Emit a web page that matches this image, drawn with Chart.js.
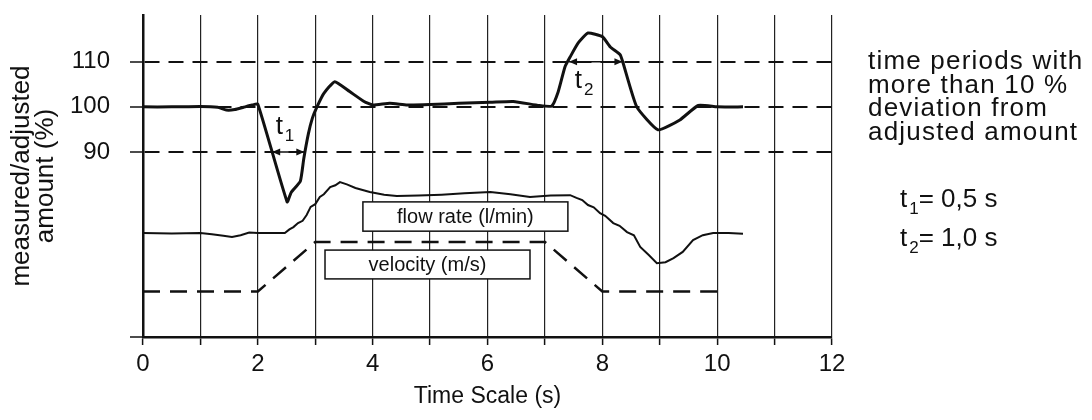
<!DOCTYPE html>
<html>
<head>
<meta charset="utf-8">
<script src="https://cdn.jsdelivr.net/npm/chart.js@4"></script>
<style>
  html, body { margin: 0; padding: 0; background: #fff; }
</style>
</head>
<body>
<canvas id="chart" width="1092" height="420"></canvas>
<script>
const FONT = '"Liberation Sans", Arial, Helvetica, sans-serif';

// measured / adjusted amount (%)
const measuredT = [0, 0.5, 1.0, 1.3, 1.45, 1.6, 1.75, 1.9, 2.0, 2.51, 2.58, 2.74, 2.8, 2.88, 2.95, 3.03, 3.15, 3.34, 3.6, 3.85, 4.0, 4.3, 4.6, 5.0, 5.5, 6.05, 6.45, 6.9, 7.12, 7.23, 7.35, 7.44, 7.58, 7.75, 8.0, 8.14, 8.31, 8.36, 8.6, 8.97, 9.35, 9.67, 10.0, 10.45];
const measuredV = [100, 100, 100.1, 99.9, 99.3, 99.4, 99.9, 100.4, 100.6, 78.9, 81, 83.5, 88.5, 94, 97.5, 100, 103, 105.6, 103.4, 101.2, 100.4, 100.8, 100.4, 100.5, 100.8, 101, 101.2, 100.3, 100.2, 103.3, 108.9, 111.1, 114.2, 116.4, 115.6, 113.3, 111.6, 109.8, 100, 94.9, 97.1, 100.3, 100, 100];

// flow rate (l/min), drawn on the same scale
const flowT = [0, 0.5, 1.0, 1.2, 1.4, 1.55, 1.7, 1.85, 2.0, 2.3, 2.47, 2.55, 2.62, 2.7, 2.78, 2.85, 2.92, 3.0, 3.08, 3.15, 3.26, 3.35, 3.43, 3.55, 3.7, 3.95, 4.2, 4.42, 4.8, 5.2, 5.6, 6.05, 6.4, 6.74, 7.1, 7.44, 7.55, 7.65, 7.75, 7.85, 7.96, 8.05, 8.19, 8.3, 8.43, 8.55, 8.66, 8.8, 8.95, 9.1, 9.24, 9.4, 9.58, 9.75, 9.93, 10.2, 10.45];
const flowV = [72, 71.9, 72, 71.7, 71.4, 71.1, 71.5, 72.1, 72, 72, 72, 72.8, 73.3, 74.2, 74.7, 76, 77.8, 78.4, 80, 80.6, 82.2, 82.6, 83.3, 82.8, 82, 81.1, 80.5, 80.2, 80.3, 80.5, 80.8, 81.1, 80.6, 80, 80.3, 80.4, 79.8, 79.3, 78.2, 77.7, 76.4, 75.8, 74.2, 73.6, 72.2, 71.5, 68.9, 67.2, 65.3, 65.5, 66.4, 67.8, 70.4, 71.5, 72, 72, 71.8];

// velocity (m/s)
const velocityT = [0, 2, 3, 7, 8, 10];
const velocityV = [59, 59, 70, 70, 59, 59];

const yTicks = [90, 100, 110];
const xLabels = [0, 2, 4, 6, 8, 10, 12];
const yMin = 48.9, yMax = 120.4;

const pts = (ts, vs) => ts.map((t, i) => ({ x: t, y: vs[i] }));

function arrow(ctx, x1, x2, y) {
    ctx.beginPath();
    ctx.moveTo(x1, y);
    ctx.lineTo(x2, y);
    ctx.lineWidth = 1.5;
    ctx.stroke();
    [[x1, 1], [x2, -1]].forEach(([x, d]) => {
        ctx.beginPath();
        ctx.moveTo(x, y);
        ctx.lineTo(x + d * 8, y - 3.5);
        ctx.lineTo(x + d * 8, y + 3.5);
        ctx.closePath();
        ctx.fill();
    });
}

function subLabel(ctx, x, y, sub, size) {
    ctx.textAlign = 'left';
    ctx.textBaseline = 'alphabetic';
    ctx.font = `${size}px ${FONT}`;
    ctx.fillText('t', x, y);
    const w = ctx.measureText('t').width;
    ctx.font = `${Math.round(size * 0.65)}px ${FONT}`;
    ctx.fillText(sub, x + w + 2, y + 7);
    return x + w + 2 + ctx.measureText(sub).width;
}

function box(ctx, text, x1, y1, x2, y2) {
    ctx.fillStyle = '#fff';
    ctx.fillRect(x1, y1, x2 - x1, y2 - y1);
    ctx.lineWidth = 1.5;
    ctx.strokeRect(x1, y1, x2 - x1, y2 - y1);
    ctx.fillStyle = '#111';
    ctx.font = `20px ${FONT}`;
    ctx.textAlign = 'center';
    ctx.textBaseline = 'middle';
    ctx.fillText(text, (x1 + x2) / 2, (y1 + y2) / 2 + 1);
}

const notes = {
    id: 'notes',
    afterDatasetsDraw(chart) {
        const { ctx, scales: { x, y } } = chart;
        const px = t => x.getPixelForValue(t);
        const py = v => y.getPixelForValue(v);
        ctx.save();
        ctx.strokeStyle = '#111';
        ctx.fillStyle = '#111';

        box(ctx, 'flow rate (l/min)', px(3.83), py(78.9), px(7.40), py(72.4));
        box(ctx, 'velocity (m/s)', px(3.17), py(68.2), px(6.74), py(61.8));

        ctx.fillStyle = '#111';
        arrow(ctx, px(2.25), px(2.81), py(90));
        arrow(ctx, px(7.42), px(8.35), py(110));
        subLabel(ctx, px(2.31), py(94), '1', 26);
        subLabel(ctx, px(7.52), py(104.3), '2', 26);

        // side note
        ctx.textAlign = 'left';
        ctx.textBaseline = 'middle';
        ctx.font = `26px ${FONT}`;
        ctx.letterSpacing = '1.2px';
        ['time periods with', 'more than 10 %', 'deviation from', 'adjusted amount']
            .forEach((s, i) => ctx.fillText(s, 868, 62 + i * 23.5));
        ctx.letterSpacing = '0px';

        let e = subLabel(ctx, 900, 207, '1', 26);
        ctx.font = `26px ${FONT}`;
        ctx.fillText('= 0,5 s', e, 207);
        e = subLabel(ctx, 900, 246, '2', 26);
        ctx.font = `26px ${FONT}`;
        ctx.fillText('= 1,0 s', e, 246);
        ctx.restore();
    }
};

new Chart(document.getElementById('chart'), {
    type: 'line',
    data: {
        datasets: [
            {
                label: 'measured',
                data: pts(measuredT, measuredV),
                borderColor: '#111',
                borderWidth: 3,
                pointRadius: 0,
                tension: 0.15
            },
            {
                label: 'flow rate (l/min)',
                data: pts(flowT, flowV),
                borderColor: '#111',
                borderWidth: 2,
                pointRadius: 0,
                tension: 0
            },
            {
                label: 'velocity (m/s)',
                data: pts(velocityT, velocityV),
                borderColor: '#111',
                borderWidth: 2.5,
                borderDash: [17, 10],
                pointRadius: 0,
                tension: 0
            }
        ]
    },
    options: {
        responsive: false,
        animation: false,
        layout: { padding: { top: 15, right: 260, left: 0, bottom: 0 } },
        plugins: { legend: { display: false }, tooltip: { enabled: false } },
        scales: {
            x: {
                type: 'linear',
                min: 0,
                max: 12,
                afterFit: s => { s.height = 83; s.paddingLeft = 0; s.paddingRight = 0; },
                ticks: {
                    stepSize: 1,
                    padding: 5,
                    color: '#111',
                    font: { family: FONT, size: 24 },
                    callback: v => xLabels.includes(v) ? String(v) : ''
                },
                grid: { color: '#222', lineWidth: 1.2, tickLength: 8, tickColor: '#111', tickWidth: 1.5 },
                border: { color: '#111', width: 2.5 },
                title: {
                    display: true,
                    text: 'Time Scale (s)',
                    color: '#111',
                    font: { family: FONT, size: 23 },
                    padding: { top: 0, bottom: 10 }
                }
            },
            y: {
                type: 'linear',
                min: yMin,
                max: yMax,
                afterFit: s => { s.width = 143; s.paddingTop = 0; s.paddingBottom = 0; },
                afterBuildTicks: s => { s.ticks = [yMin, ...yTicks].map(v => ({ value: v })); },
                ticks: {
                    padding: 20,
                    color: '#111',
                    font: { family: FONT, size: 24 },
                    callback: v => yTicks.includes(v) ? String(v) : ''
                },
                grid: { color: '#111', lineWidth: 2, tickLength: 13, tickColor: '#111', tickWidth: 1.5 },
                border: { color: '#111', width: 2.5, dash: [15, 9] },
                title: {
                    display: true,
                    text: ['measured/adjusted', 'amount (%)'],
                    color: '#111',
                    font: { family: FONT, size: 26, lineHeight: '24px' },
                    padding: { top: 10, bottom: 0 }
                }
            }
        }
    },
    plugins: [notes]
});
</script>
</body>
</html>
